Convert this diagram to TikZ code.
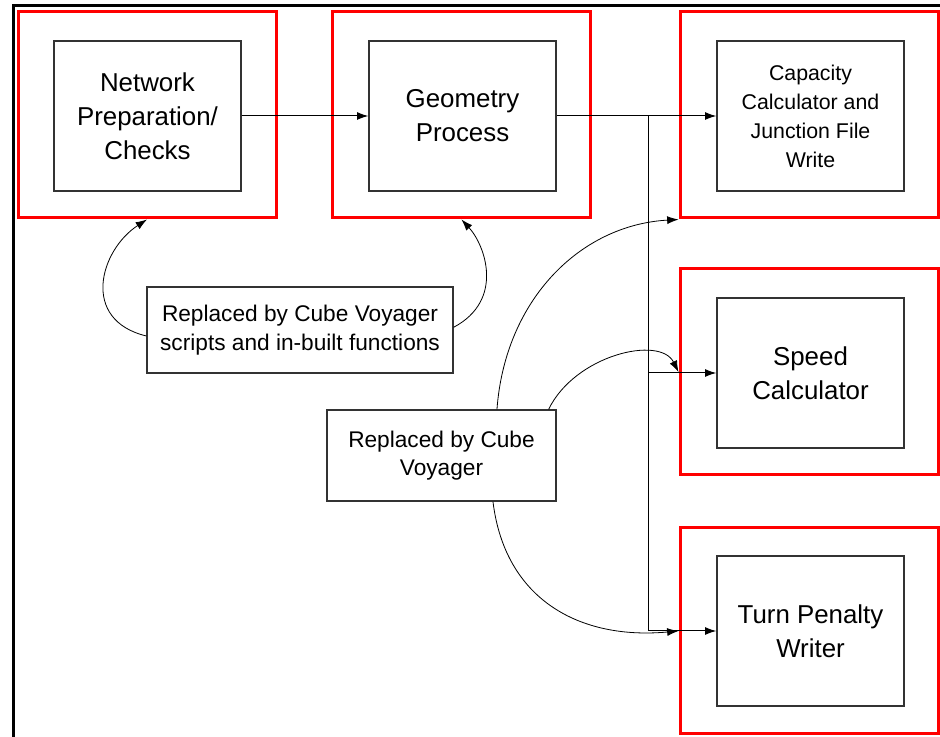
\documentclass[tikz,border=0pt]{standalone}
\usepackage{fontspec}
\setmainfont{Liberation Sans}
\usetikzlibrary{arrows.meta}
\begin{document}
\begin{tikzpicture}[x=0.75pt,y=-0.75pt,
  stage/.style={draw=black!80, line width=1pt, minimum width=140.25pt, minimum height=112.5pt, align=center, font=\fontsize{19.4}{25.5}\selectfont},
  smallstage/.style={stage, font=\fontsize{16}{21.75}\selectfont},
  redframe/.style={draw=red, line width=2.25pt, minimum width=193.5pt, minimum height=154.5pt},
  note/.style={draw=black!80, line width=0.9pt, align=center, font=\fontsize{17}{21.5}\selectfont},
  flow/.style={line width=0.75pt, -{Latex[length=8.5pt,width=6pt]}},
  swing/.style={line width=0.6pt, -{Latex[length=8.5pt,width=6pt]}}]
\useasboundingbox (0,0) rectangle (940,737);
\draw[line width=2.25pt] (13,737) -- (13,6) -- (940,6);
% red frames
\node at (147,115) [redframe] (f1) {};
\node at (461.5,115) [redframe] (f2) {};
\node at (809,115) [redframe] (f3) {};
\node at (809,372) [redframe] (f4) {};
\node at (809,631) [redframe] (f5) {};
% stages
\node at (147.5,116) [stage] (prep) {Network\\Preparation/\\Checks};
\node at (462.5,116) [stage] (geom) {Geometry\\Process};
\node at (810.5,116) [smallstage] (cap) {Capacity\\Calculator and\\Junction File\\Write};
\node at (810.5,373) [stage] (speed) {Speed\\Calculator};
\node at (810.5,631) [stage] (turn) {Turn Penalty\\Writer};
% notes
\node at (300,330) [note, minimum width=229.5pt, minimum height=64.5pt] (rep1) {Replaced by Cube Voyager\\scripts and in-built functions};
\node at (441.5,455.5) [note, minimum width=171.75pt, minimum height=68.25pt] (rep2) {Replaced by Cube\\Voyager};
% flow
\draw[flow] (prep.east) -- (geom.west);
\draw[flow] (geom.east) -- (cap.west);
\coordinate (split) at (648,116);
\draw[flow] (split) |- (speed.west);
\draw[flow] (split) |- (turn.west);
% replacements
\draw[swing] ([yshift=-4.5pt]rep1.west) .. controls (80,320) and (100,250) .. (f1.south);
\draw[swing] ([yshift=2pt]rep1.east) .. controls (505,300) and (485,245) .. (f2.south);
\draw[swing] ([xshift=41.6pt]rep2.north) .. controls (505,300) and (580,225) .. (f3.south west);
\draw[swing] ([xshift=-6pt]rep2.north east) .. controls (575,355) and (660,335) .. (f4.west);
\draw[swing] ([xshift=38.6pt]rep2.south) .. controls (505,600) and (580,640) .. (f5.west);
\end{tikzpicture}
\end{document}
